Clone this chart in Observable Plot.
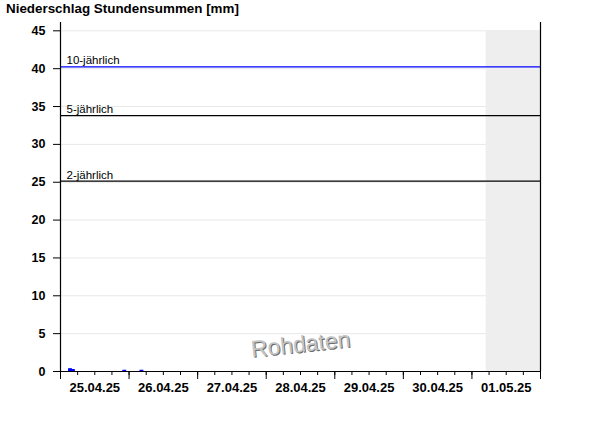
<!DOCTYPE html>
<html>
<head>
<meta charset="utf-8">
<script src="https://cdn.jsdelivr.net/npm/d3@7"></script>
<script src="https://cdn.jsdelivr.net/npm/@observablehq/plot@0.6"></script>
<style>
  html, body { margin: 0; padding: 0; background: #fff; }
  #wrap { position: relative; width: 600px; height: 426px; }
  #title { position: absolute; left: 6px; top: 1px; font: bold 13.4px "Liberation Sans", Arial, sans-serif; line-height: 16px; color: #000; }
  svg { overflow: visible; }
</style>
</head>
<body>
<div id="wrap"><div id="title">Niederschlag Stundensummen [mm]</div></div>
<script>
// ---- data ----
const domainStart = "2025-04-25T00:00Z";
const domainEnd = "2025-05-02T00:00Z";
const yMax = 46.1;
const yTicks = [0, 5, 10, 15, 20, 25, 30, 35, 40, 45];
const dayStarts = ["2025-04-25T00:00Z","2025-04-26T00:00Z","2025-04-27T00:00Z","2025-04-28T00:00Z","2025-04-29T00:00Z","2025-04-30T00:00Z","2025-05-01T00:00Z","2025-05-02T00:00Z"];
const dayNoons = ["2025-04-25T12:00Z","2025-04-26T12:00Z","2025-04-27T12:00Z","2025-04-28T12:00Z","2025-04-29T12:00Z","2025-04-30T12:00Z","2025-05-01T12:00Z"];
const dayLabels = ["25.04.25","26.04.25","27.04.25","28.04.25","29.04.25","30.04.25","01.05.25"];
const rainHourStart = ["2025-04-25T03:00Z","2025-04-25T04:00Z","2025-04-25T22:00Z","2025-04-26T04:00Z"];
const rainValues = [0.3, 0.2, 0.1, 0.1];
const thresholdLabels = ["2-jährlich", "5-jährlich", "10-jährlich"];
const thresholdValues = [25.15, 33.8, 40.25];
const thresholdColors = ["#000000", "#000000", "#0000ff"];
const forecastStart = "2025-05-01T05:00Z";
const forecastTop = 45;

// ---- build ----
const P = s => new Date(s);
const rain = rainHourStart.map((h, i) => ({x1: P(h), x2: d3.utcHour.offset(P(h), 1), y: rainValues[i]}));
const thresholds = thresholdValues.map((v, i) => ({y: v, label: thresholdLabels[i], color: thresholdColors[i]}));
const noonMap = new Map(dayNoons.map((d, i) => [+P(d), dayLabels[i]]));
const sixHourTicks = d3.utcHour.every(6).range(P(domainStart), P(domainEnd));
const x0 = P(domainStart), x1 = P(domainEnd);

const chart = Plot.plot({
  width: 600,
  height: 426,
  marginLeft: 60,
  marginRight: 60,
  marginTop: 22,
  marginBottom: 55,
  style: {fontFamily: "'Liberation Sans', Arial, sans-serif", background: "transparent", overflow: "visible"},
  x: {type: "utc", domain: [x0, x1]},
  y: {domain: [0, yMax]},
  marks: [
    Plot.gridY(yTicks.filter(d => d > 0), {stroke: "#e8e8e8", strokeOpacity: 1}),
    Plot.rect([{a: P(forecastStart), b: x1, t: forecastTop}], {x1: "a", x2: "b", y1: 0, y2: "t", fill: "#eeeeee"}),
    Plot.ruleY(thresholds, {y: "y", stroke: "color", strokeWidth: 1.2}),
    Plot.text(thresholds, {x: () => x0, y: "y", text: "label", dx: 6, dy: -2.5, textAnchor: "start", lineAnchor: "bottom", fontSize: 11.5, fill: "#000"}),
    Plot.rectY(rain, {x1: "x1", x2: "x2", y: "y", fill: "#0000ff", stroke: "#0000ff", strokeWidth: 1}),
    Plot.text(["Rohdaten"], {frameAnchor: "bottom", dy: -26, dx: 1, text: d => d, fontSize: 23, rotate: -6, fill: "#6a6a6a", lineAnchor: "middle"}),
    Plot.text(["Rohdaten"], {frameAnchor: "bottom", dy: -27, dx: 0, text: d => d, fontSize: 23, rotate: -6, fill: "#c4c4c4", lineAnchor: "middle"}),
    Plot.axisY({ticks: yTicks, tickSize: 7, tickPadding: 8, fontSize: 12.5, fontWeight: "bold", tickFormat: d => String(d)}),
    Plot.axisX({ticks: sixHourTicks, tickSize: 4, tickFormat: () => ""}),
    Plot.axisX({ticks: dayStarts.map(P), tickSize: 8, tickFormat: () => ""}),
    Plot.axisX({ticks: dayNoons.map(P), tickSize: 0, tickPadding: 11, fontSize: 13, fontWeight: "bold", tickFormat: d => noonMap.get(+d)}),
    Plot.ruleX([x0, x1], {y1: 0, y2: yMax, stroke: "#000", strokeWidth: 1.2}),
    Plot.ruleY([0], {stroke: "#000", strokeWidth: 1.2})
  ]
});
document.getElementById("wrap").appendChild(chart);
</script>
</body>
</html>
